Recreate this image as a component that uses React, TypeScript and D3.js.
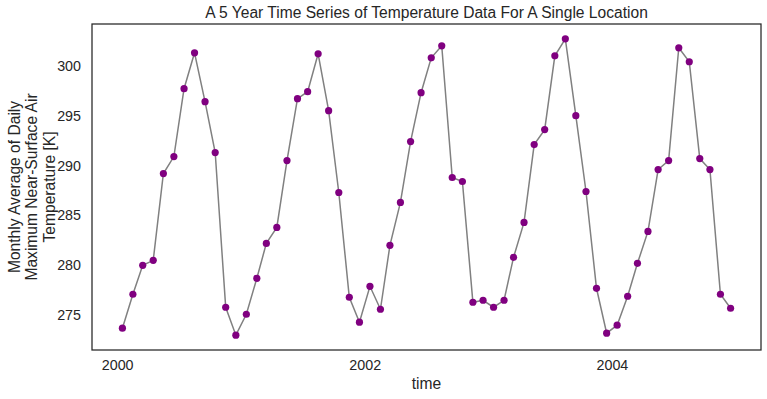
import React, { useEffect, useRef } from 'react';
import * as d3 from 'd3';

const YEARS = [2000, 2001, 2002, 2003, 2004];
const MONTHS = [0, 1, 2, 3, 4, 5, 6, 7, 8, 9, 10, 11];

// monthly average of daily max near-surface air temperature [K], one row per year
const TEMP_2000 = [273.7, 277.1, 280.0, 280.5, 289.2, 290.9, 297.7, 301.3, 296.4, 291.3, 275.8, 273.0];
const TEMP_2001 = [275.1, 278.7, 282.2, 283.8, 290.5, 296.7, 297.4, 301.2, 295.5, 287.3, 276.8, 274.3];
const TEMP_2002 = [277.9, 275.6, 282.0, 286.3, 292.4, 297.3, 300.8, 302.0, 288.8, 288.4, 276.3, 276.5];
const TEMP_2003 = [275.8, 276.5, 280.8, 284.3, 292.1, 293.6, 301.0, 302.7, 295.0, 287.4, 277.7, 273.2];
const TEMP_2004 = [274.0, 276.9, 280.2, 283.4, 289.6, 290.5, 301.8, 300.4, 290.7, 289.6, 277.1, 275.7];

const Y_TICKS = [275, 280, 285, 290, 295, 300];

const TITLE = 'A 5 Year Time Series of Temperature Data For A Single Location';
const X_LABEL = 'time';
const Y_LABEL = ['Monthly Average of Daily', 'Maximum Near-Surface Air', 'Temperature [K]'];

const W = 767;
const H = 399;
const FONT = '"Liberation Sans", Arial, sans-serif';
const INK = '#262626';

const App = () => {
  const svgRef = useRef<SVGSVGElement>(null);

  useEffect(() => {
    const margin = { top: 24, right: 6, bottom: 49, left: 92 };
    const width = W - margin.left - margin.right;
    const height = H - margin.top - margin.bottom;

    const rows = [TEMP_2000, TEMP_2001, TEMP_2002, TEMP_2003, TEMP_2004];
    const data = YEARS.flatMap((yr, i) =>
      MONTHS.map(m => ({ date: new Date(Date.UTC(yr, m, 15)), value: rows[i][m] }))
    );

    const svg = d3.select(svgRef.current);
    svg.selectAll('*').remove();
    svg.attr('width', W).attr('height', H);

    svg.append('rect').attr('width', W).attr('height', H).attr('fill', '#fff');

    const g = svg.append('g').attr('transform', `translate(${margin.left},${margin.top})`);

    // matplotlib style 5% padding on both axes
    const [t0, t1] = d3.extent(data, d => +d.date) as [number, number];
    const padT = (t1 - t0) * 0.05;
    const x = d3.scaleUtc()
      .domain([new Date(t0 - padT), new Date(t1 + padT)])
      .range([0, width]);

    const [v0, v1] = d3.extent(data, d => d.value) as [number, number];
    const padV = (v1 - v0) * 0.05;
    const y = d3.scaleLinear()
      .domain([v0 - padV, v1 + padV])
      .range([height, 0]);

    const line = d3.line<{ date: Date; value: number }>()
      .x(d => x(d.date))
      .y(d => y(d.value));

    g.append('path')
      .datum(data)
      .attr('d', line)
      .attr('fill', 'none')
      .attr('stroke', 'gray')
      .attr('stroke-width', 1.5);

    g.selectAll('.pt')
      .data(data)
      .enter()
      .append('circle')
      .attr('class', 'pt')
      .attr('cx', d => x(d.date))
      .attr('cy', d => y(d.value))
      .attr('r', 3.6)
      .attr('fill', 'purple');

    g.append('rect')
      .attr('width', width)
      .attr('height', height)
      .attr('fill', 'none')
      .attr('stroke', INK)
      .attr('stroke-width', 1.25);

    // y ticks
    g.selectAll('.ytick')
      .data(Y_TICKS)
      .enter()
      .append('text')
      .attr('class', 'ytick')
      .attr('x', -11)
      .attr('y', d => y(d))
      .attr('dy', '0.35em')
      .attr('text-anchor', 'end')
      .style('font-family', FONT)
      .style('font-size', '14.3px')
      .style('fill', INK)
      .text(d => d);

    // x ticks
    const xTicks = x.ticks(d3.utcYear.every(2)!);
    g.selectAll('.xtick')
      .data(xTicks)
      .enter()
      .append('text')
      .attr('class', 'xtick')
      .attr('x', d => x(d))
      .attr('y', height + 20)
      .attr('text-anchor', 'middle')
      .style('font-family', FONT)
      .style('font-size', '14.3px')
      .style('fill', INK)
      .text(d => d3.utcFormat('%Y')(d));

    g.append('text')
      .attr('x', width / 2)
      .attr('y', height + 39)
      .attr('text-anchor', 'middle')
      .style('font-family', FONT)
      .style('font-size', '15.6px')
      .style('fill', INK)
      .text(X_LABEL);

    const yl = svg.append('text')
      .attr('transform', `translate(32,${margin.top + height / 2}) rotate(-90)`)
      .attr('text-anchor', 'middle')
      .style('font-family', FONT)
      .style('font-size', '15.6px')
      .style('fill', INK);
    Y_LABEL.forEach((t, i) => {
      yl.append('tspan')
        .attr('x', 0)
        .attr('y', (i - 1) * 17.5)
        .attr('dy', '0.35em')
        .text(t);
    });

    svg.append('text')
      .attr('x', margin.left + width / 2)
      .attr('y', 18)
      .attr('text-anchor', 'middle')
      .style('font-family', FONT)
      .style('font-size', '15.6px')
      .style('fill', INK)
      .text(TITLE);
  }, []);

  return (
    <div style={{ position: 'absolute', left: 0, top: 0 }}>
      <svg ref={svgRef} style={{ display: 'block' }}></svg>
    </div>
  );
};

export default App;
